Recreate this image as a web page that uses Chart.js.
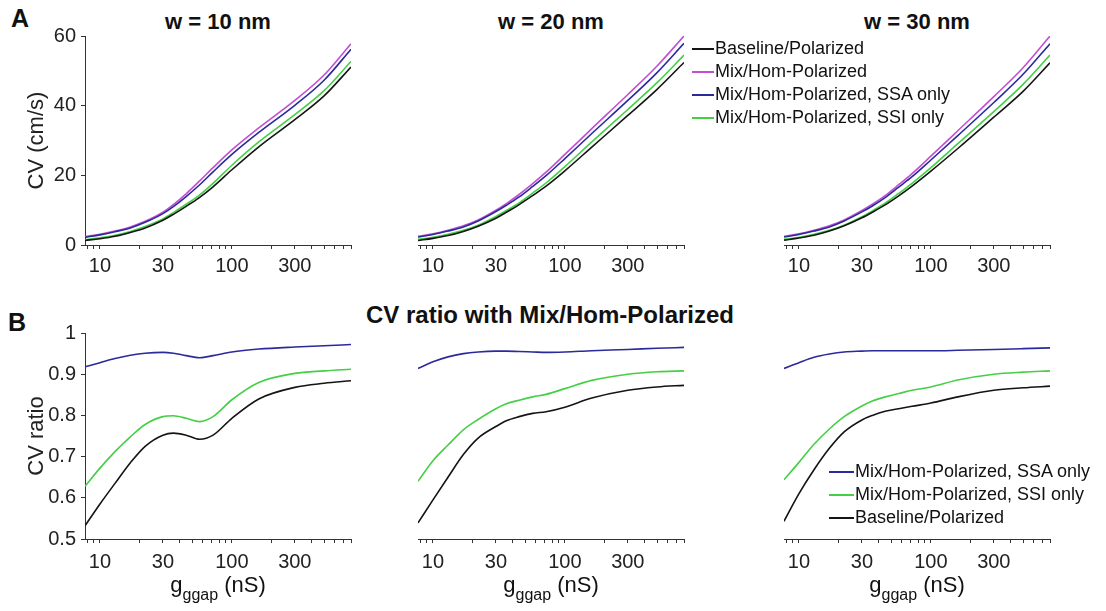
<!DOCTYPE html>
<html>
<head>
<meta charset="utf-8">
<script src="https://cdn.jsdelivr.net/npm/chart.js@4.4.0/dist/chart.umd.min.js"></script>
<style>
    body { margin: 0; background: #fff; }
    #page { position: relative; width: 1106px; height: 611px; overflow: hidden; font-family: "Liberation Sans", Arial, Helvetica, sans-serif; color: #111; }
    .panel { position: absolute; }
    .txt { position: absolute; transform: translate(-50%, -50%); white-space: nowrap; line-height: 1; }
    .bold { font-weight: bold; }
    .legend { position: absolute; font-size: 18px; }
    .legend .row { position: relative; height: 23px; line-height: 23px; white-space: nowrap; }
    .legend .swatch { position: absolute; left: 0; top: 11px; height: 2px; }
    .xtitle sub { font-size: 16px; vertical-align: -0.5em; }
</style>
</head>
<body>
<div id="page">
    <div class="txt bold" style="left:20px; top:18px; font-size:25px;">A</div>
    <div class="txt bold" style="left:17px; top:322px; font-size:25px;">B</div>

    <div class="txt bold" style="left:218px; top:22px; font-size:22px;">w = 10 nm</div>
    <div class="txt bold" style="left:551px; top:22px; font-size:22px;">w = 20 nm</div>
    <div class="txt bold" style="left:917px; top:22px; font-size:22px;">w = 30 nm</div>
    <div class="txt bold" style="left:550px; top:315px; font-size:24px;">CV ratio with Mix/Hom-Polarized</div>

    <div class="panel" style="left:0px; top:0px;"><canvas id="cvW10" width="360" height="290"></canvas></div>
    <div class="panel" style="left:333px; top:0px;"><canvas id="cvW20" width="360" height="290"></canvas></div>
    <div class="panel" style="left:699px; top:0px;"><canvas id="cvW30" width="360" height="290"></canvas></div>
    <div class="panel" style="left:0px; top:290px;"><canvas id="ratioW10" width="360" height="321"></canvas></div>
    <div class="panel" style="left:333px; top:290px;"><canvas id="ratioW20" width="360" height="321"></canvas></div>
    <div class="panel" style="left:699px; top:290px;"><canvas id="ratioW30" width="360" height="321"></canvas></div>

    <div class="txt xtitle" style="left:218px; top:588px; font-size:22px;">g<sub>ggap</sub> (nS)</div>
    <div class="txt xtitle" style="left:551px; top:588px; font-size:22px;">g<sub>ggap</sub> (nS)</div>
    <div class="txt xtitle" style="left:917px; top:588px; font-size:22px;">g<sub>ggap</sub> (nS)</div>

    <div id="legendA" class="legend" style="left:692px; top:37px;"></div>
    <div id="legendB" class="legend" style="left:829px; top:460px;"></div>
</div>

<script>
// gap junction conductance (nS), shared by every panel
const gGap = [7.7, 10, 13, 17, 22, 30, 36, 45, 57, 72, 100, 160, 300, 500, 800];

const xTickValues = [8, 9, 10, 20, 30, 40, 50, 60, 70, 80, 90, 100, 200, 300, 400, 500, 600, 700, 800];
const xTickLabels = [10, 30, 100, 300];

const seriesNames = ['Baseline/Polarized', 'Mix/Hom-Polarized', 'Mix/Hom-Polarized, SSA only', 'Mix/Hom-Polarized, SSI only'];
const seriesColors = ['#141414', '#c24fd2', '#2a2a9c', '#44cf44'];

// A: CV (cm/s)
const cvBase10 = [1.3, 1.8, 2.5, 3.6, 4.9, 7.1, 8.8, 11.1, 13.7, 16.7, 21.6, 28.2, 36.0, 42.8, 51.1];
const cvMixHom10 = [2.4, 3.1, 4.0, 5.2, 6.8, 9.4, 11.6, 14.7, 18.4, 22.2, 27.3, 33.6, 41.5, 48.8, 57.8];
const cvSSA10 = [2.2, 2.9, 3.8, 4.9, 6.5, 9.0, 11.0, 13.9, 17.3, 21.0, 26.0, 32.3, 40.1, 47.3, 56.2];
const cvSSI10 = [1.5, 2.1, 2.8, 3.9, 5.3, 7.5, 9.3, 11.7, 14.4, 17.7, 22.9, 29.6, 37.4, 44.3, 52.7];

const cvBase20 = [1.3, 1.9, 2.7, 3.9, 5.4, 7.7, 9.4, 11.6, 14.2, 16.9, 21.3, 28.1, 37.2, 44.7, 52.4];
const cvMixHom20 = [2.5, 3.2, 4.2, 5.5, 7.2, 10.0, 11.9, 14.5, 17.6, 20.9, 26.0, 33.4, 43.2, 51.4, 60.0];
const cvSSA20 = [2.3, 3.0, 4.0, 5.2, 6.9, 9.6, 11.4, 13.8, 16.8, 19.9, 24.8, 32.0, 41.5, 49.5, 57.9];
const cvSSI20 = [1.6, 2.2, 3.1, 4.2, 5.7, 8.2, 9.9, 12.1, 14.9, 17.8, 22.5, 29.6, 38.9, 46.6, 54.5];

const cvBase30 = [1.4, 2.0, 2.8, 4.0, 5.5, 7.8, 9.4, 11.5, 14.1, 16.9, 21.2, 27.7, 36.7, 44.1, 52.3];
const cvMixHom30 = [2.5, 3.2, 4.2, 5.5, 7.2, 9.9, 11.7, 14.2, 17.3, 20.5, 25.5, 32.8, 42.6, 50.9, 60.0];
const cvSSA30 = [2.3, 3.0, 4.0, 5.2, 6.9, 9.5, 11.2, 13.6, 16.6, 19.6, 24.4, 31.4, 40.9, 49.0, 57.8];
const cvSSI30 = [1.6, 2.2, 3.1, 4.2, 5.7, 8.1, 9.8, 12.0, 14.8, 17.7, 22.2, 29.1, 38.3, 46.1, 54.5];

// B: CV ratio with Mix/Hom-Polarized
const ratioSSA10 = [0.918, 0.928, 0.938, 0.946, 0.951, 0.953, 0.951, 0.945, 0.940, 0.945, 0.954, 0.961, 0.966, 0.969, 0.972];
const ratioSSI10 = [0.628, 0.672, 0.712, 0.748, 0.778, 0.797, 0.799, 0.793, 0.785, 0.797, 0.838, 0.880, 0.902, 0.908, 0.912];
const ratioBase10 = [0.532, 0.585, 0.635, 0.685, 0.725, 0.752, 0.757, 0.752, 0.742, 0.752, 0.793, 0.840, 0.868, 0.878, 0.884];

const ratioSSA20 = [0.914, 0.930, 0.942, 0.950, 0.954, 0.956, 0.956, 0.955, 0.954, 0.953, 0.954, 0.957, 0.960, 0.963, 0.965];
const ratioSSI20 = [0.640, 0.690, 0.728, 0.765, 0.790, 0.816, 0.828, 0.837, 0.845, 0.851, 0.865, 0.885, 0.900, 0.906, 0.908];
const ratioBase20 = [0.539, 0.595, 0.650, 0.705, 0.745, 0.773, 0.787, 0.797, 0.805, 0.809, 0.820, 0.842, 0.861, 0.869, 0.873];

const ratioSSA30 = [0.914, 0.928, 0.941, 0.949, 0.954, 0.956, 0.957, 0.957, 0.957, 0.957, 0.957, 0.958, 0.960, 0.962, 0.964];
const ratioSSI30 = [0.644, 0.686, 0.730, 0.767, 0.797, 0.823, 0.835, 0.845, 0.853, 0.861, 0.869, 0.886, 0.900, 0.905, 0.908];
const ratioBase30 = [0.543, 0.610, 0.668, 0.720, 0.760, 0.789, 0.800, 0.810, 0.816, 0.822, 0.830, 0.845, 0.861, 0.867, 0.871];

const fontFamily = '"Liberation Sans", Arial, Helvetica, sans-serif';
const axisColor = '#333';

function serie(values, colorIndex) {
    return {
        label: seriesNames[colorIndex],
        data: gGap.map((g, i) => ({ x: g, y: values[i] })),
        borderColor: seriesColors[colorIndex],
        borderWidth: 1.6,
        pointRadius: 0,
        fill: false,
        cubicInterpolationMode: 'monotone'
    };
}

function plotPanel(canvasId, datasets, row, showY) {
    const top = row === 'cv';
    const ctx = document.getElementById(canvasId).getContext('2d');

    return new Chart(ctx, {
        type: 'line',
        data: { datasets: datasets },
        options: {
            responsive: false,
            animation: false,
            devicePixelRatio: 1,
            layout: {
                // the y scale keeps its 85px even when hidden, so no left padding
                padding: { left: 0, right: 9, top: top ? 36 : 43, bottom: 0 }
            },
            plugins: {
                legend: { display: false },
                tooltip: { enabled: false }
            },
            scales: {
                x: {
                    type: 'logarithmic',
                    min: 7.7,
                    max: 800,
                    afterBuildTicks: s => { s.ticks = xTickValues.map(v => ({ value: v })); },
                    afterFit: s => { s.height = top ? 45 : 72; },
                    ticks: {
                        autoSkip: false,
                        maxRotation: 0,
                        padding: top ? 5 : 7,
                        color: '#222',
                        font: { family: fontFamily, size: 20 },
                        callback: v => xTickLabels.includes(v) ? String(v) : ''
                    },
                    grid: { drawOnChartArea: false, drawTicks: true, tickLength: 4, tickColor: axisColor },
                    border: { display: true, color: axisColor, width: 1 }
                },
                y: {
                    display: showY,
                    min: top ? 0 : 0.5,
                    max: top ? 60 : 1,
                    afterFit: s => { s.width = 85; },
                    title: {
                        display: true,
                        text: top ? 'CV (cm/s)' : 'CV ratio',
                        color: '#222',
                        font: { family: fontFamily, size: 22 },
                        padding: { top: 24, bottom: 0 }
                    },
                    ticks: {
                        stepSize: top ? 20 : 0.1,
                        padding: 5,
                        color: '#222',
                        font: { family: fontFamily, size: 20 },
                        callback: v => String(+v.toFixed(1))
                    },
                    grid: { drawOnChartArea: false, drawTicks: true, tickLength: 4, tickColor: axisColor },
                    border: { display: true, color: axisColor, width: 1 }
                }
            }
        }
    });
}

function buildLegend(id, order) {
    const box = document.getElementById(id);
    const lineWidth = id === 'legendA' ? 22 : 25;
    order.forEach(i => {
        const row = document.createElement('div');
        row.className = 'row';
        row.style.paddingLeft = (lineWidth + 1) + 'px';
        const swatch = document.createElement('span');
        swatch.className = 'swatch';
        swatch.style.width = lineWidth + 'px';
        swatch.style.background = seriesColors[i];
        row.appendChild(swatch);
        row.appendChild(document.createTextNode(seriesNames[i]));
        box.appendChild(row);
    });
}

plotPanel('cvW10', [serie(cvBase10, 0), serie(cvSSI10, 3), serie(cvSSA10, 2), serie(cvMixHom10, 1)], 'cv', true);
plotPanel('cvW20', [serie(cvBase20, 0), serie(cvSSI20, 3), serie(cvSSA20, 2), serie(cvMixHom20, 1)], 'cv', false);
plotPanel('cvW30', [serie(cvBase30, 0), serie(cvSSI30, 3), serie(cvSSA30, 2), serie(cvMixHom30, 1)], 'cv', false);

plotPanel('ratioW10', [serie(ratioBase10, 0), serie(ratioSSI10, 3), serie(ratioSSA10, 2)], 'ratio', true);
plotPanel('ratioW20', [serie(ratioBase20, 0), serie(ratioSSI20, 3), serie(ratioSSA20, 2)], 'ratio', false);
plotPanel('ratioW30', [serie(ratioBase30, 0), serie(ratioSSI30, 3), serie(ratioSSA30, 2)], 'ratio', false);

buildLegend('legendA', [0, 1, 2, 3]);
buildLegend('legendB', [2, 3, 0]);
</script>
</body>
</html>
